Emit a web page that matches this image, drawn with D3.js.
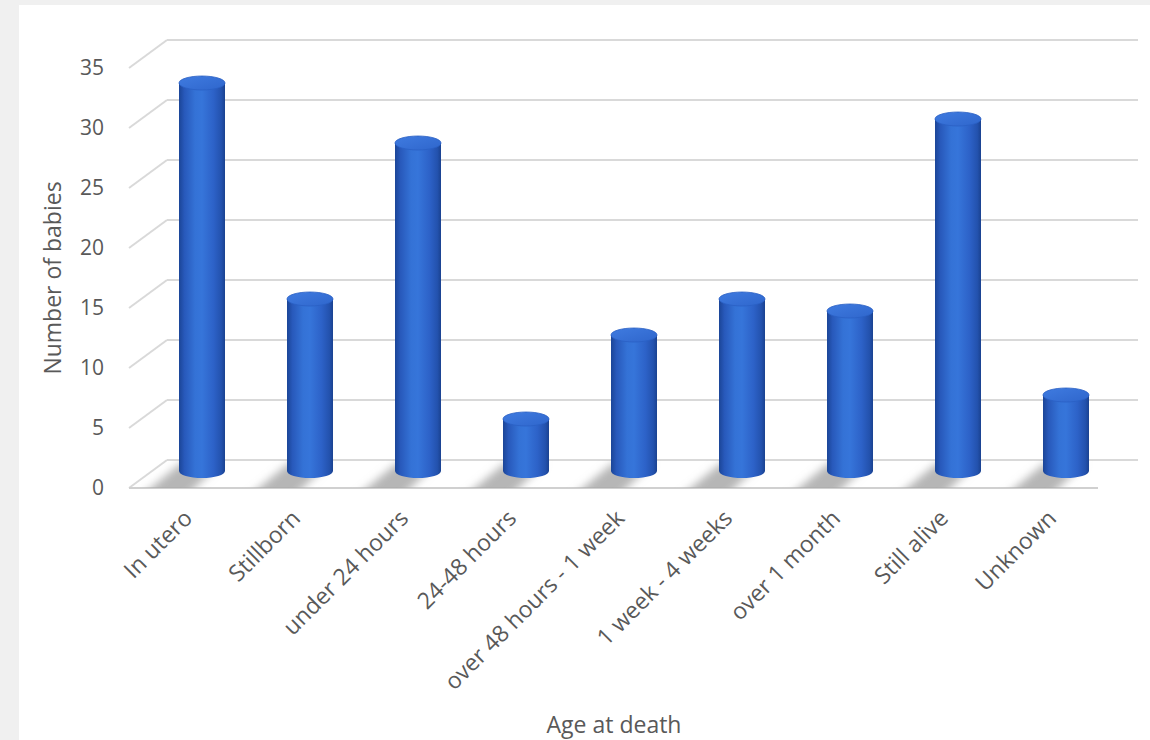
<!DOCTYPE html>
<html>
<head>
<meta charset="utf-8">
<script src="https://cdn.jsdelivr.net/npm/d3@7"></script>
<style>
  html, body { margin: 0; padding: 0; background: #f0f0f0; }
  svg { display: block; }
  text { font-family: "Open Sans", "Noto Sans", sans-serif; fill: #595959; }
</style>
</head>
<body>
<svg id="chart" width="1150" height="740"></svg>
<script>
// Age at death categories and counts of babies
const categories = ["In utero", "Stillborn", "under 24 hours", "24-48 hours",
  "over 48 hours - 1 week", "1 week - 4 weeks", "over 1 month", "Still alive", "Unknown"];
const counts = [33, 15, 28, 5, 12, 15, 14, 30, 7];
const yTicks = [0, 5, 10, 15, 20, 25, 30, 35];

const svg = d3.select("#chart");

// white chart area
svg.append("rect").attr("x", 19).attr("y", 5).attr("width", 1131).attr("height", 735).attr("fill", "#ffffff");

// 3D layout: back wall and front floor edge offset
const depthX = -38, depthY = 28;
const backLeft = 167, backRight = 1138;
const y = d3.scaleLinear().domain([0, 35]).range([460, 40]);  // back wall
const x = d3.scaleBand().domain(categories).range([148, 1120]).paddingInner(0).paddingOuter(0);
const barW = 46, ry = 7;
const topOffset = 19;   // value plane of the bars sits in front of the back wall
const baseY = y(0) + 11; // centre of each cylinder's bottom ellipse

const defs = svg.append("defs");
const grad = defs.append("linearGradient").attr("id", "cyl").attr("x1", 0).attr("x2", 1).attr("y1", 0).attr("y2", 0);
[[0, "#1b4597"], [0.12, "#2859bb"], [0.35, "#3472d6"], [0.5, "#3675da"], [0.75, "#2d62c8"], [0.92, "#2352ae"], [1, "#1a4290"]]
  .forEach(([o, c]) => grad.append("stop").attr("offset", o).attr("stop-color", c));
const topGrad = defs.append("linearGradient").attr("id", "cyltop").attr("x1", 0).attr("x2", 1).attr("y1", 0).attr("y2", 1);
topGrad.append("stop").attr("offset", 0).attr("stop-color", "#3f7be0");
topGrad.append("stop").attr("offset", 1).attr("stop-color", "#2f66cc");
defs.append("filter").attr("id", "soft").attr("x", "-50%").attr("y", "-50%").attr("width", "200%").attr("height", "200%")
  .append("feGaussianBlur").attr("stdDeviation", 4);
defs.append("clipPath").attr("id", "floorClip").append("path")
  .attr("d", `M${backLeft},${y(0)} L${backRight},${y(0)} L${backRight + depthX},${y(0) + depthY} L${backLeft + depthX},${y(0) + depthY} Z`);

// gridlines on back wall and the left wall edges
const grid = svg.append("g");
yTicks.forEach(t => {
  grid.append("line").attr("x1", backLeft).attr("x2", backRight).attr("y1", y(t)).attr("y2", y(t))
    .attr("stroke", "#d9d9d9").attr("stroke-width", 2);
  grid.append("line").attr("x1", backLeft + depthX).attr("x2", backLeft).attr("y1", y(t) + depthY).attr("y2", y(t))
    .attr("stroke", "#d9d9d9").attr("stroke-width", 2);
});

// soft shadows cast on the floor
const shadows = svg.append("g").attr("clip-path", "url(#floorClip)").append("g").attr("filter", "url(#soft)");
categories.forEach((c, i) => {
  const cx = x(c) + x.bandwidth() / 2;
  shadows.append("path")
    .attr("d", `M${cx - barW / 2 + 2},${baseY - 8} L${cx + barW / 2 - 4},${baseY - 8} L${cx + barW / 2 - 44},${baseY + 30} L${cx - barW / 2 - 44},${baseY + 30} Z`)
    .attr("fill", "#a9a9a9").attr("opacity", 0.85);
});

// floor front edge
grid.append("line").attr("x1", backLeft + depthX).attr("x2", backRight + depthX - 2)
  .attr("y1", y(0) + depthY).attr("y2", y(0) + depthY).attr("stroke", "#d0d0d0").attr("stroke-width", 2);

// cylinders
const bars = svg.append("g");
categories.forEach((c, i) => {
  const cx = x(c) + x.bandwidth() / 2;
  const l = cx - barW / 2, r = cx + barW / 2;
  const top = y(counts[i]) + topOffset;
  bars.append("path")
    .attr("d", `M${l},${top} L${l},${baseY} A${barW / 2},${ry} 0 0 0 ${r},${baseY} L${r},${top} Z`)
    .attr("fill", "url(#cyl)");
  bars.append("ellipse").attr("cx", cx).attr("cy", top).attr("rx", barW / 2).attr("ry", ry)
    .attr("fill", "url(#cyltop)").attr("stroke", "#2a5fc4").attr("stroke-width", 0.8);
});

// y tick labels at the front plane
const yl = svg.append("g");
yTicks.forEach(t => {
  yl.append("text").attr("x", 104).attr("y", y(t) + 27 + 2).attr("text-anchor", "end")
    .attr("dominant-baseline", "middle").attr("font-size", 21).text(t);
});

// category labels
const xl = svg.append("g");
categories.forEach(c => {
  const cx = x(c) + x.bandwidth() / 2;
  xl.append("text").attr("transform", `translate(${cx - 14},${514}) rotate(-45)`)
    .attr("text-anchor", "end").attr("dy", "0.35em").attr("font-size", 23).text(c);
});

// axis titles
svg.append("text").attr("transform", "translate(55,278) rotate(-90)").attr("text-anchor", "middle")
  .attr("dominant-baseline", "middle").attr("font-size", 23).text("Number of babies");
svg.append("text").attr("x", 614).attr("y", 727).attr("text-anchor", "middle")
  .attr("dominant-baseline", "middle").attr("font-size", 23).text("Age at death");
</script>
</body>
</html>
